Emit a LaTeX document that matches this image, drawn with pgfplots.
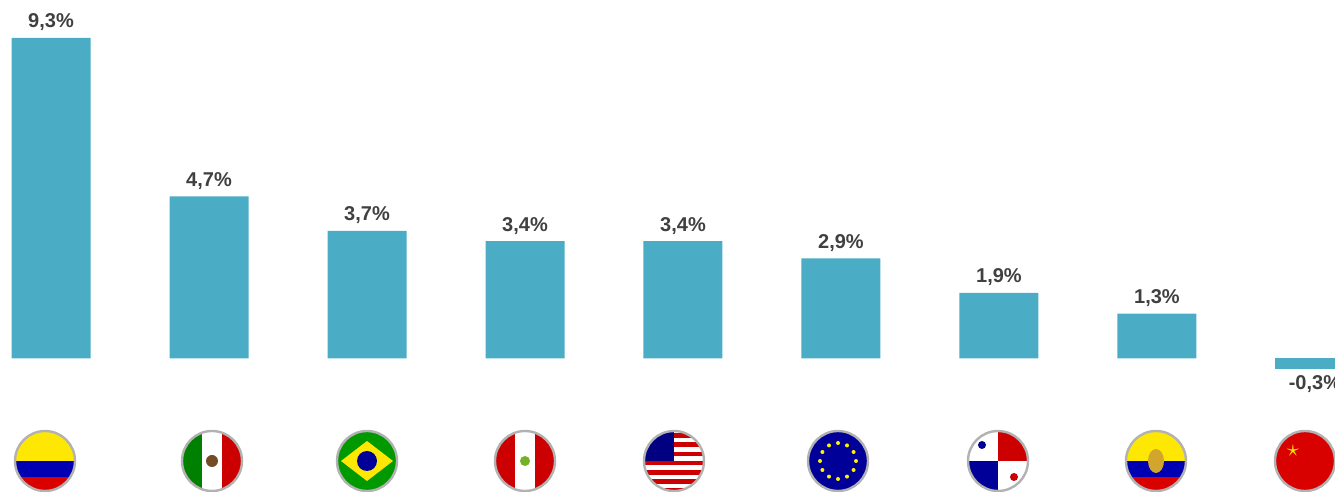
\documentclass[border=0pt]{standalone}
\usepackage{pgfplots}
\pgfplotsset{compat=1.18}
\usepackage{fontspec}
\setmainfont{Liberation Sans}
\definecolor{barc}{HTML}{4BACC6}
\definecolor{lab}{HTML}{404040}
\newcommand{\flagbase}[1]{\begin{tikzpicture}\begin{scope}\clip (0,0) circle (15pt);#1\end{scope}\draw[gray!60,line width=1.2pt] (0,0) circle (15pt);\end{tikzpicture}}
\newcommand{\fCO}{\flagbase{\fill[yellow!90!orange] (-16pt,0) rectangle (16pt,16pt);\fill[blue!70!black] (-16pt,-8pt) rectangle (16pt,0);\fill[red!85!black] (-16pt,-16pt) rectangle (16pt,-8pt);}}
\newcommand{\fEC}{\flagbase{\fill[yellow!90!orange] (-16pt,0) rectangle (16pt,16pt);\fill[blue!70!black] (-16pt,-8pt) rectangle (16pt,0);\fill[red!85!black] (-16pt,-16pt) rectangle (16pt,-8pt);\fill[brown!70!yellow] (0,0) ellipse (4pt and 6pt);}}
\newcommand{\fMX}{\flagbase{\fill[green!50!black] (-16pt,-16pt) rectangle (-5pt,16pt);\fill[white] (-5pt,-16pt) rectangle (5pt,16pt);\fill[red!80!black] (5pt,-16pt) rectangle (16pt,16pt);\fill[brown!60!black] (0,0) circle (3pt);}}
\newcommand{\fBR}{\flagbase{\fill[green!60!black] (-16pt,-16pt) rectangle (16pt,16pt);\fill[yellow!90!orange] (-13pt,0) -- (0,10pt) -- (13pt,0) -- (0,-10pt) -- cycle;\fill[blue!60!black] (0,0) circle (5pt);}}
\newcommand{\fPE}{\flagbase{\fill[red!80!black] (-16pt,-16pt) rectangle (16pt,16pt);\fill[white] (-5pt,-16pt) rectangle (5pt,16pt);\fill[brown!60!green] (0,0) circle (2.5pt);}}
\newcommand{\fUS}{\flagbase{\fill[white] (-16pt,-16pt) rectangle (16pt,16pt);\foreach \i in {0,...,6}{\fill[red!80!black] (-16pt,-16pt+\i*4.6pt) rectangle (16pt,-13.7pt+\i*4.6pt);}\fill[blue!50!black] (-16pt,0) rectangle (0,16pt);}}
\newcommand{\fEU}{\flagbase{\fill[blue!60!black] (-16pt,-16pt) rectangle (16pt,16pt);\foreach \a in {0,30,...,330}{\fill[yellow] (\a:9pt) circle (1pt);}}}
\newcommand{\fPA}{\flagbase{\fill[white] (-16pt,-16pt) rectangle (16pt,16pt);\fill[red!80!black] (0,0) rectangle (16pt,16pt);\fill[blue!60!black] (-16pt,-16pt) rectangle (0,0);\fill[blue!60!black] (-8pt,8pt) circle (2pt);\fill[red!80!black] (8pt,-8pt) circle (2pt);}}
\newcommand{\fCN}{\flagbase{\fill[red!85!black] (-16pt,-16pt) rectangle (16pt,16pt);\node[yellow,font=\large] at (-6pt,5pt) {$\star$};}}
\begin{document}
\begin{tikzpicture}
\begin{axis}[at={(0,56.5pt)},anchor=south west,scale only axis,
 width=667.5pt,height=189.5pt,
 xmin=-0.323,xmax=8.127,ymin=-0.6,ymax=10.4,
 axis lines=none,clip=false,
 ybar,bar width=39.5pt,bar shift=0pt,
 /pgf/number format/.cd,use comma,fixed,fixed zerofill,precision=1,assume math mode=true,
 /pgfplots/.cd,
 nodes near coords={\pgfmathprintnumber{\pgfplotspointmeta}\%},
 nodes near coords style={font=\bfseries\fontsize{10pt}{12pt}\selectfont,text=lab},
]
\addplot[fill=barc,draw=none] coordinates {(0,9.3) (1,4.7) (2,3.7) (3,3.4) (4,3.4) (5,2.9) (6,1.9) (7,1.3)};
\addplot[fill=barc,draw=none,nodes near coords style={anchor=north}] coordinates {(8.0,-0.3)};
\end{axis}
\foreach \f/\x in {\fCO/22.5,\fMX/106,\fBR/183.5,\fPE/262.5,\fUS/337,\fEU/419,\fPA/499,\fEC/578,\fCN/652.5}{\node[inner sep=0] at (\x pt,15.5pt) {\f};}
\pgfresetboundingbox
\useasboundingbox (0,0) rectangle (667.5pt,246pt);
\end{tikzpicture}
\end{document}
